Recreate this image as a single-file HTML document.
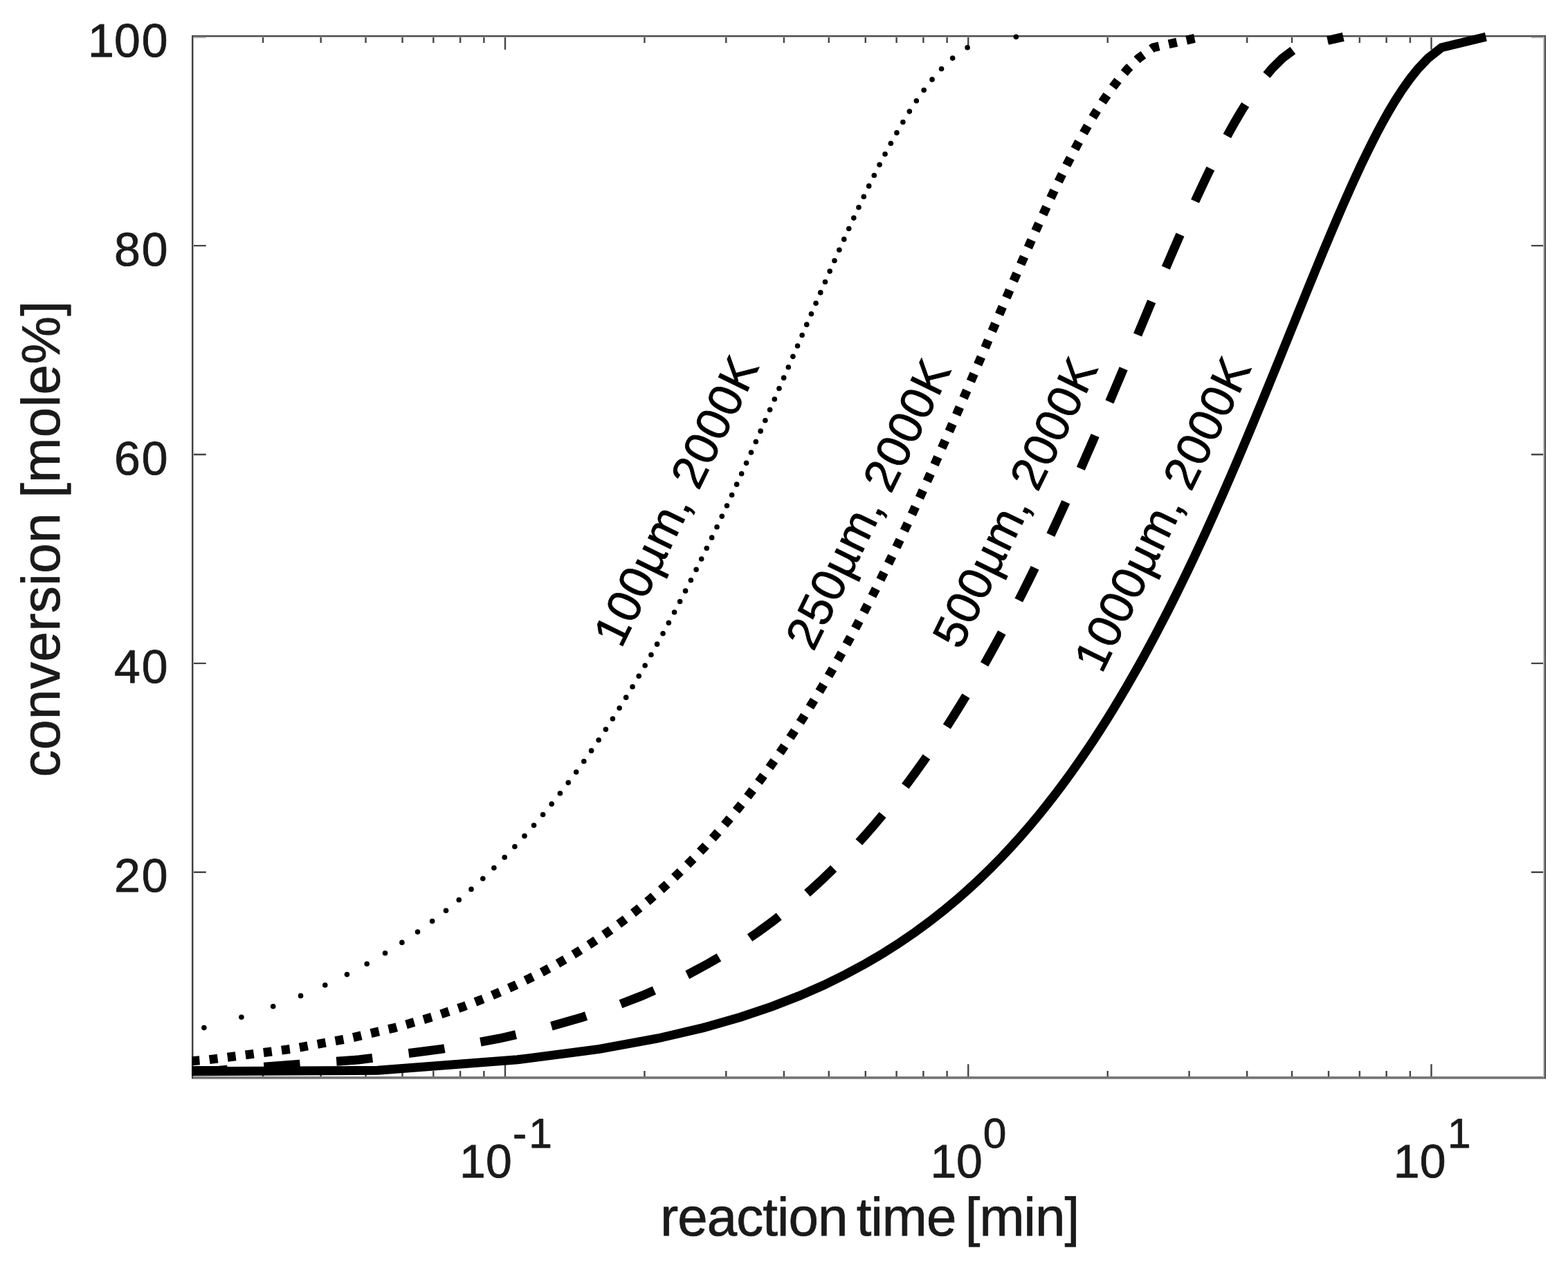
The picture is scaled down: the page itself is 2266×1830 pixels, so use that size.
<!DOCTYPE html>
<html lang="en"><head><meta charset="utf-8"><title>conversion vs reaction time</title>
<style>
html,body{margin:0;padding:0;background:#ffffff;}
body{width:2266px;height:1830px;overflow:hidden;}
svg{display:block;}
text{text-rendering:geometricPrecision;stroke-linejoin:round;}
</style></head><body>
<svg xmlns="http://www.w3.org/2000/svg" width="2266" height="1830" viewBox="0 0 2266 1830">
<rect x="0" y="0" width="2266" height="1830" fill="#ffffff"/>
<defs><clipPath id="ax"><rect x="277.18" y="44.32" width="1956.37" height="1514.63"/></clipPath></defs>
<g>
<path d="M730.00,1557.85v-19.5 M730.00,52.32v19.5 M1399.25,1557.85v-19.5 M1399.25,52.32v19.5 M2068.50,1557.85v-19.5 M2068.50,52.32v19.5 M278.28,1260.74h19.5 M2232.45,1260.74h-19.5 M278.28,958.88h19.5 M2232.45,958.88h-19.5 M278.28,657.02h19.5 M2232.45,657.02h-19.5 M278.28,355.16h19.5 M2232.45,355.16h-19.5 M278.28,53.30h19.5 M2232.45,53.30h-19.5" stroke="#454545" stroke-width="2.4" fill="none"/>
<path d="M380.06,1557.85v-9.8 M380.06,52.32v9.8 M463.68,1557.85v-9.8 M463.68,52.32v9.8 M528.54,1557.85v-9.8 M528.54,52.32v9.8 M581.53,1557.85v-9.8 M581.53,52.32v9.8 M626.33,1557.85v-9.8 M626.33,52.32v9.8 M665.14,1557.85v-9.8 M665.14,52.32v9.8 M699.38,1557.85v-9.8 M699.38,52.32v9.8 M931.46,1557.85v-9.8 M931.46,52.32v9.8 M1049.31,1557.85v-9.8 M1049.31,52.32v9.8 M1132.93,1557.85v-9.8 M1132.93,52.32v9.8 M1197.79,1557.85v-9.8 M1197.79,52.32v9.8 M1250.78,1557.85v-9.8 M1250.78,52.32v9.8 M1295.58,1557.85v-9.8 M1295.58,52.32v9.8 M1334.39,1557.85v-9.8 M1334.39,52.32v9.8 M1368.63,1557.85v-9.8 M1368.63,52.32v9.8 M1600.71,1557.85v-9.8 M1600.71,52.32v9.8 M1718.56,1557.85v-9.8 M1718.56,52.32v9.8 M1802.18,1557.85v-9.8 M1802.18,52.32v9.8 M1867.04,1557.85v-9.8 M1867.04,52.32v9.8 M1920.03,1557.85v-9.8 M1920.03,52.32v9.8 M1964.83,1557.85v-9.8 M1964.83,52.32v9.8 M2003.64,1557.85v-9.8 M2003.64,52.32v9.8 M2037.88,1557.85v-9.8 M2037.88,52.32v9.8" stroke="#454545" stroke-width="2.4" fill="none"/>
<g shape-rendering="crispEdges">
<rect x="277" y="1556" width="1957" height="3" fill="#777777"/>
<rect x="277" y="1559" width="1957" height="1" fill="#9c9c9c"/>
<rect x="279" y="53" width="1953" height="1.2" fill="#a6a6a6"/>
<rect x="277" y="51" width="1957" height="2" fill="#4d4d4d"/>
<rect x="279" y="53" width="1" height="1504" fill="#a8a8a8"/>
<rect x="277" y="51" width="2" height="1508" fill="#404040"/>
<rect x="2230" y="53" width="2" height="1504" fill="#b8b8b8"/>
<rect x="2232" y="51" width="2" height="1508" fill="#484848"/>
</g>
<g clip-path="url(#ax)" fill="none" stroke="#000000" stroke-linejoin="miter" stroke-miterlimit="10">
<path d="M276.50,1548.74 L545.44,1547.20 L747.67,1531.80 L866.29,1516.40 L950.69,1501.00 L1016.34,1485.59 L1070.12,1470.19 L1115.73,1454.79 L1155.35,1439.39 L1190.41,1423.99 L1221.86,1408.59 L1250.39,1393.19 L1276.52,1377.79 L1300.64,1362.39 L1323.04,1346.99 L1343.96,1331.58 L1363.59,1316.18 L1382.10,1300.78 L1399.61,1285.38 L1416.23,1269.98 L1432.05,1254.58 L1447.15,1239.18 L1461.61,1223.78 L1475.47,1208.38 L1488.80,1192.98 L1501.63,1177.57 L1514.01,1162.17 L1525.96,1146.77 L1537.53,1131.37 L1548.74,1115.97 L1559.62,1100.57 L1570.19,1085.17 L1580.46,1069.77 L1590.47,1054.37 L1600.22,1038.97 L1609.74,1023.56 L1619.03,1008.16 L1628.11,992.76 L1637.00,977.36 L1645.70,961.96 L1654.22,946.56 L1662.58,931.16 L1670.78,915.76 L1678.83,900.36 L1686.75,884.96 L1694.54,869.55 L1702.19,854.15 L1709.74,838.75 L1717.17,823.35 L1724.49,807.95 L1731.72,792.55 L1738.86,777.15 L1745.90,761.75 L1752.86,746.35 L1759.75,730.94 L1766.56,715.54 L1773.30,700.14 L1779.98,684.74 L1786.60,669.34 L1793.16,653.94 L1799.67,638.54 L1806.14,623.14 L1812.56,607.74 L1818.95,592.34 L1825.29,576.93 L1831.61,561.53 L1837.91,546.13 L1844.18,530.73 L1850.44,515.33 L1856.68,499.93 L1862.91,484.53 L1869.15,469.13 L1875.38,453.73 L1881.63,438.33 L1887.88,422.92 L1894.16,407.52 L1900.47,392.12 L1906.81,376.72 L1913.19,361.32 L1919.63,345.92 L1926.12,330.52 L1932.69,315.12 L1939.35,299.72 L1946.11,284.32 L1952.99,268.91 L1960.01,253.51 L1967.19,238.11 L1974.57,222.71 L1982.17,207.31 L1990.06,191.91 L1998.29,176.51 L2006.94,161.11 L2016.12,145.71 L2026.01,130.31 L2036.87,114.90 L2049.16,99.50 L2063.80,84.10 L2083.32,68.70 L2147.39,53.30" stroke-width="13.0"/>
<path d="M276.50,1547.43 L316.99,1547.20 L519.33,1531.80 L638.05,1516.40 L722.55,1501.00 L788.30,1485.59 L842.19,1470.19 L887.90,1454.79 L927.63,1439.39 L962.79,1423.99 L994.34,1408.59 L1022.99,1393.19 L1049.23,1377.79 L1073.45,1362.39 L1095.96,1346.99 L1116.99,1331.58 L1136.74,1316.18 L1155.35,1300.78 L1172.97,1285.38 L1189.71,1269.98 L1205.64,1254.58 L1220.86,1239.18 L1235.43,1223.78 L1249.41,1208.38 L1262.86,1192.98 L1275.80,1177.57 L1288.30,1162.17 L1300.38,1146.77 L1312.07,1131.37 L1323.40,1115.97 L1334.40,1100.57 L1345.09,1085.17 L1355.49,1069.77 L1365.62,1054.37 L1375.50,1038.97 L1385.15,1023.56 L1394.57,1008.16 L1403.78,992.76 L1412.80,977.36 L1421.63,961.96 L1430.29,946.56 L1438.78,931.16 L1447.12,915.76 L1455.31,900.36 L1463.37,884.96 L1471.29,869.55 L1479.09,854.15 L1486.78,838.75 L1494.36,823.35 L1501.83,807.95 L1509.21,792.55 L1516.49,777.15 L1523.69,761.75 L1530.80,746.35 L1537.84,730.94 L1544.81,715.54 L1551.71,700.14 L1558.55,684.74 L1565.34,669.34 L1572.07,653.94 L1578.75,638.54 L1585.38,623.14 L1591.98,607.74 L1598.54,592.34 L1605.07,576.93 L1611.57,561.53 L1618.05,546.13 L1624.51,530.73 L1630.95,515.33 L1637.39,499.93 L1643.83,484.53 L1650.26,469.13 L1656.70,453.73 L1663.16,438.33 L1669.63,422.92 L1676.13,407.52 L1682.66,392.12 L1689.23,376.72 L1695.85,361.32 L1702.53,345.92 L1709.28,330.52 L1716.11,315.12 L1723.04,299.72 L1730.07,284.32 L1737.24,268.91 L1744.55,253.51 L1752.04,238.11 L1759.75,222.71 L1767.70,207.31 L1775.94,191.91 L1784.55,176.51 L1793.61,161.11 L1803.25,145.71 L1813.62,130.31 L1825.03,114.90 L1837.94,99.50 L1853.34,84.10 L1873.90,68.70 L1941.28,53.30" stroke-width="13.0" stroke-dasharray="52.3 52.8" stroke-dashoffset="0.0"/>
<path d="M276.50,1533.69 L301.35,1531.80 L420.14,1516.40 L504.70,1501.00 L570.51,1485.59 L624.47,1470.19 L670.24,1454.79 L710.03,1439.39 L745.25,1423.99 L776.87,1408.59 L805.58,1393.19 L831.88,1377.79 L856.17,1362.39 L878.75,1346.99 L899.84,1331.58 L919.66,1316.18 L938.34,1300.78 L956.03,1285.38 L972.83,1269.98 L988.83,1254.58 L1004.12,1239.18 L1018.76,1223.78 L1032.81,1208.38 L1046.32,1192.98 L1059.34,1177.57 L1071.91,1162.17 L1084.05,1146.77 L1095.82,1131.37 L1107.22,1115.97 L1118.30,1100.57 L1129.06,1085.17 L1139.54,1069.77 L1149.74,1054.37 L1159.70,1038.97 L1169.42,1023.56 L1178.91,1008.16 L1188.20,992.76 L1197.30,977.36 L1206.21,961.96 L1214.94,946.56 L1223.52,931.16 L1231.94,915.76 L1240.21,900.36 L1248.35,884.96 L1256.36,869.55 L1264.24,854.15 L1272.01,838.75 L1279.67,823.35 L1287.23,807.95 L1294.70,792.55 L1302.07,777.15 L1309.35,761.75 L1316.56,746.35 L1323.69,730.94 L1330.75,715.54 L1337.75,700.14 L1344.68,684.74 L1351.56,669.34 L1358.38,653.94 L1365.16,638.54 L1371.90,623.14 L1378.60,607.74 L1385.26,592.34 L1391.89,576.93 L1398.50,561.53 L1405.08,546.13 L1411.65,530.73 L1418.21,515.33 L1424.76,499.93 L1431.31,484.53 L1437.86,469.13 L1444.42,453.73 L1450.99,438.33 L1457.59,422.92 L1464.21,407.52 L1470.87,392.12 L1477.58,376.72 L1484.33,361.32 L1491.15,345.92 L1498.04,330.52 L1505.02,315.12 L1512.10,299.72 L1519.29,284.32 L1526.61,268.91 L1534.10,253.51 L1541.76,238.11 L1549.65,222.71 L1557.79,207.31 L1566.24,191.91 L1575.06,176.51 L1584.35,161.11 L1594.23,145.71 L1604.88,130.31 L1616.59,114.90 L1629.85,99.50 L1645.67,84.10 L1666.78,68.70 L1735.96,53.30" stroke-width="13.0" stroke-dasharray="12.0 14.284" stroke-dashoffset="0.0"/>
</g>
<g fill="#000000">
<circle cx="294.90" cy="1485.59" r="3.8"/>
<circle cx="348.90" cy="1470.19" r="3.8"/>
<circle cx="394.72" cy="1454.79" r="3.8"/>
<circle cx="434.55" cy="1439.39" r="3.8"/>
<circle cx="469.81" cy="1423.99" r="3.8"/>
<circle cx="501.48" cy="1408.59" r="3.8"/>
<circle cx="530.23" cy="1393.19" r="3.8"/>
<circle cx="556.57" cy="1377.79" r="3.8"/>
<circle cx="580.91" cy="1362.39" r="3.8"/>
<circle cx="603.52" cy="1346.99" r="3.8"/>
<circle cx="624.66" cy="1331.58" r="3.8"/>
<circle cx="644.52" cy="1316.18" r="3.8"/>
<circle cx="663.25" cy="1300.78" r="3.8"/>
<circle cx="680.98" cy="1285.38" r="3.8"/>
<circle cx="697.83" cy="1269.98" r="3.8"/>
<circle cx="713.88" cy="1254.58" r="3.8"/>
<circle cx="729.21" cy="1239.18" r="3.8"/>
<circle cx="743.90" cy="1223.78" r="3.8"/>
<circle cx="757.99" cy="1208.38" r="3.8"/>
<circle cx="771.55" cy="1192.98" r="3.8"/>
<circle cx="784.62" cy="1177.57" r="3.8"/>
<circle cx="797.23" cy="1162.17" r="3.8"/>
<circle cx="809.42" cy="1146.77" r="3.8"/>
<circle cx="821.24" cy="1131.37" r="3.8"/>
<circle cx="832.69" cy="1115.97" r="3.8"/>
<circle cx="843.81" cy="1100.57" r="3.8"/>
<circle cx="854.62" cy="1085.17" r="3.8"/>
<circle cx="865.15" cy="1069.77" r="3.8"/>
<circle cx="875.40" cy="1054.37" r="3.8"/>
<circle cx="885.41" cy="1038.97" r="3.8"/>
<circle cx="895.18" cy="1023.56" r="3.8"/>
<circle cx="904.72" cy="1008.16" r="3.8"/>
<circle cx="914.06" cy="992.76" r="3.8"/>
<circle cx="923.21" cy="977.36" r="3.8"/>
<circle cx="932.17" cy="961.96" r="3.8"/>
<circle cx="940.96" cy="946.56" r="3.8"/>
<circle cx="949.59" cy="931.16" r="3.8"/>
<circle cx="958.06" cy="915.76" r="3.8"/>
<circle cx="966.39" cy="900.36" r="3.8"/>
<circle cx="974.58" cy="884.96" r="3.8"/>
<circle cx="982.64" cy="869.55" r="3.8"/>
<circle cx="990.58" cy="854.15" r="3.8"/>
<circle cx="998.41" cy="838.75" r="3.8"/>
<circle cx="1006.13" cy="823.35" r="3.8"/>
<circle cx="1013.74" cy="807.95" r="3.8"/>
<circle cx="1021.26" cy="792.55" r="3.8"/>
<circle cx="1028.69" cy="777.15" r="3.8"/>
<circle cx="1036.04" cy="761.75" r="3.8"/>
<circle cx="1043.30" cy="746.35" r="3.8"/>
<circle cx="1050.49" cy="730.94" r="3.8"/>
<circle cx="1057.61" cy="715.54" r="3.8"/>
<circle cx="1064.67" cy="700.14" r="3.8"/>
<circle cx="1071.66" cy="684.74" r="3.8"/>
<circle cx="1078.60" cy="669.34" r="3.8"/>
<circle cx="1085.49" cy="653.94" r="3.8"/>
<circle cx="1092.34" cy="638.54" r="3.8"/>
<circle cx="1099.14" cy="623.14" r="3.8"/>
<circle cx="1105.90" cy="607.74" r="3.8"/>
<circle cx="1112.63" cy="592.34" r="3.8"/>
<circle cx="1119.33" cy="576.93" r="3.8"/>
<circle cx="1126.00" cy="561.53" r="3.8"/>
<circle cx="1132.66" cy="546.13" r="3.8"/>
<circle cx="1139.30" cy="530.73" r="3.8"/>
<circle cx="1145.92" cy="515.33" r="3.8"/>
<circle cx="1152.55" cy="499.93" r="3.8"/>
<circle cx="1159.17" cy="484.53" r="3.8"/>
<circle cx="1165.80" cy="469.13" r="3.8"/>
<circle cx="1172.43" cy="453.73" r="3.8"/>
<circle cx="1179.09" cy="438.33" r="3.8"/>
<circle cx="1185.76" cy="422.92" r="3.8"/>
<circle cx="1192.47" cy="407.52" r="3.8"/>
<circle cx="1199.21" cy="392.12" r="3.8"/>
<circle cx="1206.00" cy="376.72" r="3.8"/>
<circle cx="1212.85" cy="361.32" r="3.8"/>
<circle cx="1219.75" cy="345.92" r="3.8"/>
<circle cx="1226.74" cy="330.52" r="3.8"/>
<circle cx="1233.81" cy="315.12" r="3.8"/>
<circle cx="1240.98" cy="299.72" r="3.8"/>
<circle cx="1248.27" cy="284.32" r="3.8"/>
<circle cx="1255.70" cy="268.91" r="3.8"/>
<circle cx="1263.29" cy="253.51" r="3.8"/>
<circle cx="1271.07" cy="238.11" r="3.8"/>
<circle cx="1279.08" cy="222.71" r="3.8"/>
<circle cx="1287.34" cy="207.31" r="3.8"/>
<circle cx="1295.92" cy="191.91" r="3.8"/>
<circle cx="1304.88" cy="176.51" r="3.8"/>
<circle cx="1314.32" cy="161.11" r="3.8"/>
<circle cx="1324.35" cy="145.71" r="3.8"/>
<circle cx="1335.17" cy="130.31" r="3.8"/>
<circle cx="1347.07" cy="114.90" r="3.8"/>
<circle cx="1360.55" cy="99.50" r="3.8"/>
<circle cx="1376.63" cy="84.10" r="3.8"/>
<circle cx="1398.10" cy="68.70" r="3.8"/>
<circle cx="1468.40" cy="53.30" r="3.8"/>
</g>
<g font-family="'Liberation Sans', sans-serif" fill="#1a1a1a" stroke="#1a1a1a" stroke-width="0.8" font-size="68.0">
<text x="165.04 204.84" y="1289.24">20</text>
<text x="165.04 204.84" y="987.38">40</text>
<text x="165.04 204.84" y="685.52">60</text>
<text x="165.04 204.84" y="383.66">80</text>
<text x="127.09 165.04 204.84" y="81.80">100</text>
<text x="663.89 701.94" y="1701.6">10</text>
<text x="741.01 764.14" y="1658.8" font-size="60.5">-1</text>
<text x="1344.39 1381.94" y="1701.6">10</text>
<text x="1420.84" y="1658.8" font-size="60.5">0</text>
<text x="2013.69 2051.74" y="1701.6">10</text>
<text x="2092.04" y="1658.8" font-size="60.5">1</text>
</g>
<g font-family="'Liberation Sans', sans-serif" fill="#1a1a1a" stroke="#1a1a1a" stroke-width="0.8" font-size="78.0">
<text x="954.22" y="1786" letter-spacing="-0.92" word-spacing="-7.39">reaction time [min]</text>
<text transform="translate(86.0,1123.31) rotate(-90)" letter-spacing="0.51" word-spacing="-1.01">conversion [mole%]</text>
</g>
<g font-family="'Liberation Sans', sans-serif" fill="#000000" stroke="#000000" stroke-width="0.8" font-size="68.0" letter-spacing="1.0">
<text transform="translate(897.84,938.51) rotate(-63.93)">100µm, 2000K</text>
<text transform="translate(1175.54,943.11) rotate(-63.93)">250µm, 2000K</text>
<text transform="translate(1387.94,940.71) rotate(-63.93)">500µm, 2000K</text>
<text transform="translate(1592.28,974.97) rotate(-63.93)">1000µm, 2000K</text>
</g>
</g>
</svg>
</body></html>
